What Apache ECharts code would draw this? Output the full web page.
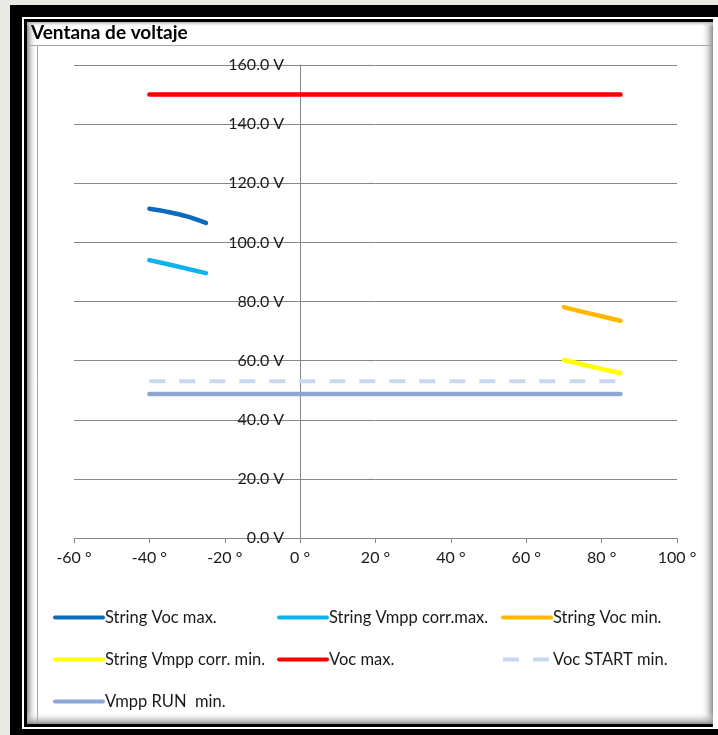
<!DOCTYPE html>
<html>
<head>
<meta charset="utf-8">
<title>Ventana de voltaje</title>
<script src="https://cdn.jsdelivr.net/npm/echarts@6/dist/echarts.min.js"></script>
<style>
  html, body { margin: 0; padding: 0; background: #ffffff; }
  #chart { width: 718px; height: 735px; }
</style>
</head>
<body>
<div id="chart"></div>
<script>
// Axis ticks
const tempTicks = [-60, -40, -20, 0, 20, 40, 60, 80, 100];
const voltTicks = [0, 20, 40, 60, 80, 100, 120, 140, 160];

// Module temperatures (°C) for the string curves
const tempCold = [-40, -35, -30, -25];
const tempHot = [70, 75, 80, 85];
const tempRange = [-40, 85];

// String voltages (V)
const stringVocMax = [111.4, 110.3, 108.8, 106.6];
const stringVmppCorrMax = [94.0, 92.6, 91.1, 89.6];
const stringVocMin = [78.1, 76.5, 75.0, 73.5];
const stringVmppCorrMin = [60.2, 58.7, 57.2, 55.8];

// Inverter limits (V)
const vocMax = [150, 150];
const vocStartMin = [53, 53];
const vmppRunMin = [48.7, 48.7];

const seriesNames = [
  'String Voc max.',
  'String Vmpp corr.max.',
  'String Voc min.',
  'String Vmpp corr. min.',
  'Voc max.',
  'Voc START min.',
  'Vmpp RUN  min.'
];

const FONT = 'Lato, "Open Sans", sans-serif';

// plot area in pixels
const GRID = { left: 74, right: 41, top: 65, bottom: 197 };
const PLOT_W = 718 - GRID.left - GRID.right;

function pairs(xs, ys) {
  return xs.map((x, i) => [x, ys[i]]);
}

function lineSeries(name, xs, ys, color, width, dashed) {
  return {
    name: name,
    type: 'line',
    data: pairs(xs, ys),
    symbol: 'none',
    smooth: xs.length > 2 ? 0.3 : false,
    lineStyle: {
      color: color,
      width: width,
      type: dashed ? [16, 14] : 'solid',
      cap: dashed ? 'butt' : 'round'
    },
    itemStyle: { color: color },
    emphasis: { disabled: true },
    z: 3
  };
}

function legendColumn(left, names) {
  return {
    data: names,
    orient: 'vertical',
    left: left,
    top: 604,
    itemWidth: 48,
    itemHeight: 14,
    itemGap: 25,
    itemStyle: { opacity: 0 },
    lineStyle: { width: 4 },
    textStyle: { fontFamily: FONT, fontSize: 16.5, color: '#1a1a1a', padding: [0, 0, 0, -3] },
    selectedMode: false
  };
}

// Frame drawn around the chart panel
const frame = [
  { type: 'rect', shape: { x: 0, y: 0, width: 718, height: 735 }, style: { fill: '#ebe9e4' }, z: -10 },
  { type: 'rect', shape: { x: 10, y: 5, width: 708, height: 730 }, style: { fill: '#000000' }, z: -9 },
  { type: 'rect', shape: { x: 22, y: 17, width: 700, height: 712 }, style: { fill: '#ffffff' }, z: -8 },
  { type: 'rect', shape: { x: 24, y: 19, width: 689, height: 708 }, style: { fill: '#000000' }, z: -7 },
  { type: 'rect', shape: { x: 27, y: 22, width: 686, height: 702 }, style: { fill: '#ffffff' }, z: -6 },
  // soft inner shading along the panel edges
  { type: 'rect', shape: { x: 27, y: 22, width: 10, height: 702 }, z: -5,
    style: { fill: new echarts.graphic.LinearGradient(0, 0, 1, 0, [{ offset: 0, color: '#8c8c8c' }, { offset: 1, color: 'rgba(255,255,255,0)' }]) } },
  { type: 'rect', shape: { x: 701, y: 22, width: 12, height: 702 }, z: -5,
    style: { fill: new echarts.graphic.LinearGradient(0, 0, 1, 0, [{ offset: 0, color: 'rgba(255,255,255,0)' }, { offset: 1, color: '#8c8c8c' }]) } },
  { type: 'rect', shape: { x: 27, y: 712, width: 686, height: 12 }, z: -5,
    style: { fill: new echarts.graphic.LinearGradient(0, 0, 0, 1, [{ offset: 0, color: 'rgba(255,255,255,0)' }, { offset: 1, color: '#8c8c8c' }]) } },
  { type: 'rect', shape: { x: 27, y: 22, width: 686, height: 5 }, z: -5,
    style: { fill: new echarts.graphic.LinearGradient(0, 0, 0, 1, [{ offset: 0, color: '#b0b0b0' }, { offset: 1, color: 'rgba(255,255,255,0)' }]) } },
  // title band separator and inner plot box
  { type: 'line', shape: { x1: 27, y1: 45.5, x2: 713, y2: 45.5 }, style: { stroke: '#a6a6a6', lineWidth: 1 }, z: -4 },
  { type: 'line', shape: { x1: 37.5, y1: 45, x2: 37.5, y2: 722 }, style: { stroke: '#a6a6a6', lineWidth: 1 }, z: -4 }
];

const xMin = tempTicks[0];
const xMax = tempTicks[tempTicks.length - 1];
// vertical axis crosses the horizontal one at 0 °
const yAxisShift = (0 - xMin) / (xMax - xMin) * PLOT_W;

const chart = echarts.init(document.getElementById('chart'), null, { renderer: 'canvas' });

chart.setOption({
  animation: false,
  backgroundColor: 'transparent',
  title: {
    text: 'Ventana de voltaje',
    left: 31,
    top: 23,
    padding: 0,
    textStyle: { fontFamily: FONT, fontSize: 19, fontWeight: 'bold', color: '#000000' }
  },
  graphic: frame,
  grid: { left: GRID.left, right: GRID.right, top: GRID.top, bottom: GRID.bottom, containLabel: false },
  xAxis: {
    type: 'value',
    min: xMin,
    max: xMax,
    interval: tempTicks[1] - tempTicks[0],
    axisLine: { show: true, onZero: true, lineStyle: { color: '#868686', width: 1 } },
    axisTick: { show: true, inside: false, length: 5, lineStyle: { color: '#868686' } },
    axisLabel: {
      margin: 12,
      fontFamily: FONT, fontSize: 16, color: '#1a1a1a',
      formatter: v => v + ' °'
    },
    splitLine: { show: false }
  },
  yAxis: {
    type: 'value',
    min: voltTicks[0],
    max: voltTicks[voltTicks.length - 1],
    interval: voltTicks[1] - voltTicks[0],
    offset: -yAxisShift,
    axisLine: { show: true, onZero: false, lineStyle: { color: '#868686', width: 1 } },
    axisTick: { show: false },
    axisLabel: {
      margin: 16,
      fontFamily: FONT, fontSize: 16, color: '#1a1a1a',
      formatter: v => v.toFixed(1) + ' V'
    },
    splitLine: { show: true, lineStyle: { color: '#868686', width: 1 } }
  },
  legend: [
    legendColumn(48, [seriesNames[0], seriesNames[3], seriesNames[6]]),
    legendColumn(272, [seriesNames[1], seriesNames[4]]),
    legendColumn(496, [seriesNames[2], seriesNames[5]])
  ],
  series: [
    lineSeries(seriesNames[0], tempCold, stringVocMax, '#0b6cbd', 4.5, false),
    lineSeries(seriesNames[1], tempCold, stringVmppCorrMax, '#0eb2ef', 4.5, false),
    lineSeries(seriesNames[2], tempHot, stringVocMin, '#ffb700', 4.5, false),
    lineSeries(seriesNames[3], tempHot, stringVmppCorrMin, '#ffff00', 4.5, false),
    lineSeries(seriesNames[4], tempRange, vocMax, '#ff0000', 4.5, false),
    lineSeries(seriesNames[5], tempRange, vocStartMin, '#c6d9f1', 4, true),
    lineSeries(seriesNames[6], tempRange, vmppRunMin, '#8ea6d2', 4.5, false)
  ]
});
</script>
</body>
</html>
